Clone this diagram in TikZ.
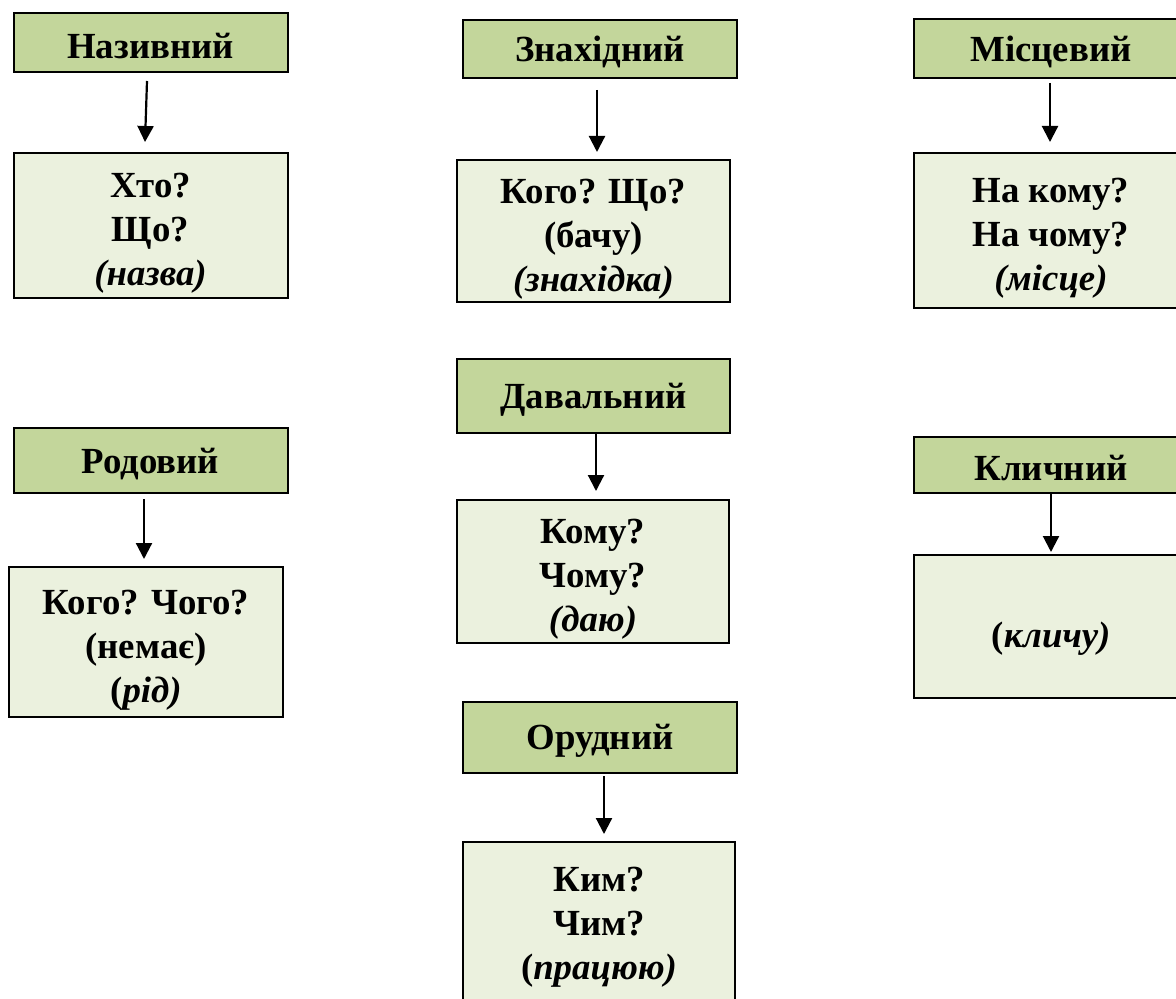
\documentclass[tikz,border=0pt]{standalone}
\usepackage{fontspec}
\setmainfont{Liberation Serif}
\usetikzlibrary{arrows.meta}
\definecolor{hdrgreen}{HTML}{C3D69B}
\definecolor{bodygreen}{HTML}{EBF1DE}
\newcommand\mytopstrut{\rule{0pt}{20pt}}
\begin{document}
\begin{tikzpicture}[x=0.5pt,y=-0.5pt,
  hdr/.style={draw=black, line width=1pt, fill=hdrgreen, font=\fontsize{18.4}{22}\selectfont\bfseries, inner sep=0pt, minimum width=137pt, execute at begin node={\rule{0pt}{16pt}}},
  bodybox/.style={draw=black, line width=1pt, fill=bodygreen, font=\fontsize{18.4}{22}\selectfont\bfseries, align=center, inner sep=0pt, minimum width=137pt},
  arr/.style={line width=1.1pt, -{Triangle[length=8pt,width=8pt]}}]
\useasboundingbox (0,0) rectangle (1176,999);

% column 1
\node[hdr, minimum height=29.5pt] (nh) at (150.5,42.5) {Називний};
\node[bodybox, minimum height=72.5pt] (nb) at (150.5,225.5) {\mytopstrut Хто?\\Що?\\\textit{(назва)}};
\node[hdr, minimum height=32.5pt] (rh) at (150.5,460.5) {Родовий};
\node[bodybox, minimum height=75pt] (rb) at (146,642) {\mytopstrut Кого? Чого?\\(немає)\\(\textit{рід)}};

% column 2
\node[hdr, minimum height=29pt] (zh) at (600,49) {Знахідний};
\node[bodybox, minimum height=71pt, minimum width=136.5pt] (zb) at (593.5,231) {\mytopstrut Кого? Що?\\(бачу)\\\textit{(знахідка)}};
\node[hdr, minimum height=37pt, minimum width=136.5pt] (dh) at (593.5,396) {Давальний};
\node[bodybox, minimum height=71.5pt, minimum width=136pt] (db) at (593,571.5) {\mytopstrut Кому?\\Чому?\\\textit{(даю)}};
\node[hdr, minimum height=35.5pt] (oh) at (600,737.5) {Орудний};
\node[bodybox, minimum height=95pt, minimum width=136pt] (ob) at (599,937) {\mytopstrut Ким?\\Чим?\\(\textit{працюю)}\\\mbox{}};

% column 3
\node[hdr, minimum height=29.5pt] (mh) at (1051,48.5) {Місцевий};
\node[bodybox, minimum height=77.5pt] (mb) at (1051,230.5) {\mytopstrut На кому?\\На чому?\\\textit{(місце)}};
\node[hdr, minimum height=28pt] (kh) at (1051,465) {Кличний};
\node[bodybox, minimum height=71.5pt] (kb) at (1051,626.5) {\rule{0pt}{25pt}(\textit{кличу)}};

% arrows
\draw[arr] ([xshift=-1.75pt,yshift=-4pt]nh.south) -- ([xshift=-2.75pt,yshift=5pt]nb.north);
\draw[arr] ([xshift=-3.25pt,yshift=-2.5pt]rh.south) -- ([xshift=-1pt,yshift=3.5pt]rb.north);
\draw[arr] ([xshift=-1.5pt,yshift=-5.5pt]zh.south) -- ([xshift=1.75pt,yshift=3.5pt]zb.north);
\draw[arr] ([xshift=1.25pt]dh.south) -- ([xshift=1.5pt,yshift=4pt]db.north);
\draw[arr] ([xshift=2pt,yshift=-1pt]oh.south) -- ([xshift=2.5pt,yshift=3.5pt]ob.north);
\draw[arr] ([xshift=-0.5pt,yshift=-2pt]mh.south) -- ([xshift=-0.5pt,yshift=5pt]mb.north);
\draw[arr] (kh.south) -- ([yshift=1pt]kb.north);
\end{tikzpicture}
\end{document}
